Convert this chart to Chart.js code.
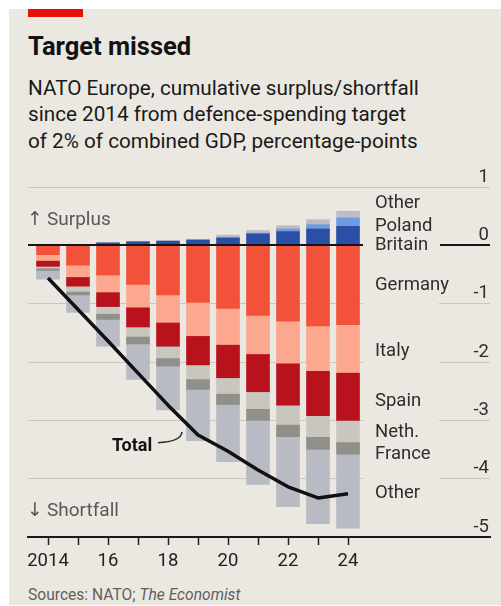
<!DOCTYPE html>
<html>
<head>
<meta charset="utf-8">
<script src="https://cdn.jsdelivr.net/npm/chart.js@4.4.1/dist/chart.umd.min.js"></script>
<style>
  html, body { margin:0; padding:0; background:#ffffff; width:501px; height:606px; overflow:hidden; }
  #bg { position:absolute; left:9px; top:9px; width:492px; height:596px; background:#ebe8e1; }
  #redbar { position:absolute; left:28px; top:9px; width:55px; height:8px; background:#e3120b; }
  .t { position:absolute; left:28px; font-family:Roboto, sans-serif; white-space:nowrap; }
  #title { top:31px; font-size:25.5px; line-height:30px; font-weight:700; color:#121212; }
  #sub { top:74.6px; font-size:20.7px; line-height:26.7px; color:#1a1a1a; }
  #src { top:584.7px; font-size:15.6px; line-height:20px; color:#5f5f5f; }
  #c { position:absolute; left:0; top:0; }
</style>
</head>
<body>
<div id="bg"></div>
<div id="redbar"></div>
<div id="title" class="t">Target missed</div>
<div id="sub" class="t">NATO Europe, cumulative surplus/shortfall<br>since 2014 from defence-spending target<br>of 2% of combined GDP, percentage-points</div>
<div id="src" class="t">Sources: NATO; <i>The Economist</i></div>
<canvas id="c" width="501" height="606"></canvas>
<script>
// ---- data (percentage-points of combined GDP, cumulative since 2014) ----
const years = [2014, 2015, 2016, 2017, 2018, 2019, 2020, 2021, 2022, 2023, 2024];
const xTickLabels = ['2014', '', '16', '', '18', '', '20', '', '22', '', '24'];
const yTickValues = [1, 0, -1, -2, -3, -4, -5];
const yTickLabels = ['1', '0', '-1', '-2', '-3', '-4', '-5'];

const britain     = [0.015, 0.01, 0.04, 0.06, 0.07, 0.09, 0.125, 0.195, 0.235, 0.28, 0.325];
const poland      = [0, 0, 0, 0, 0, 0, 0.01, 0.015, 0.045, 0.075, 0.145];
const otherPlus   = [0.005, 0.005, 0.01, 0.01, 0.015, 0.015, 0.04, 0.045, 0.057, 0.085, 0.115];
const germany     = [-0.16, -0.34, -0.51, -0.67, -0.85, -0.98, -1.08, -1.20, -1.30, -1.38, -1.36];
const italy       = [-0.10, -0.20, -0.29, -0.39, -0.47, -0.57, -0.62, -0.66, -0.72, -0.77, -0.82];
const spain       = [-0.10, -0.16, -0.25, -0.34, -0.41, -0.50, -0.57, -0.65, -0.72, -0.77, -0.82];
const netherlands = [-0.03, -0.09, -0.12, -0.16, -0.20, -0.24, -0.27, -0.29, -0.33, -0.36, -0.37];
const france      = [-0.04, -0.06, -0.10, -0.13, -0.14, -0.18, -0.19, -0.20, -0.21, -0.22, -0.21];
const otherMinus  = [-0.15, -0.30, -0.46, -0.61, -0.75, -0.88, -0.98, -1.10, -1.20, -1.27, -1.27];
const total       = [-0.56, -1.10, -1.64, -2.19, -2.74, -3.25, -3.53, -3.85, -4.14, -4.33, -4.26];

const seriesNames = ['Britain', 'Poland', 'Other', 'Germany', 'Italy', 'Spain', 'Neth.', 'France', 'Other'];

// ---- styling ----
const BG = '#ebe8e1';
const FONT = 'Roboto, sans-serif';
const colors = {
  britain:'#2b4ea6', poland:'#6d9de0', otherPlus:'#bdbdc3',
  germany:'#f2513a', italy:'#fba88f', spain:'#b8121d',
  netherlands:'#c9c6bf', france:'#8f908a', otherMinus:'#b8bbc3'
};
// legend label anchor values (y-axis units)
const legendLabels = [
  {text: seriesNames[2], v: 0.64},
  {text: seriesNames[1], v: 0.25},
  {text: seriesNames[0], v: -0.08},
  {text: seriesNames[3], v: -0.76},
  {text: seriesNames[4], v: -1.89},
  {text: seriesNames[5], v: -2.75},
  {text: seriesNames[6], v: -3.28},
  {text: seriesNames[7], v: -3.66},
  {text: seriesNames[8], v: -4.33}
];

const pts = arr => years.map((yr, i) => ({x: yr, y: arr[i]}));
const bar = (label, arr, color) => ({
  type: 'bar', label, data: pts(arr), backgroundColor: color,
  borderWidth: 0, barThickness: 23, order: 1
});

const overlay = {
  id: 'overlay',
  afterDatasetsDraw(chart) {
    const {ctx, chartArea: a, scales: {x, y}} = chart;
    ctx.save();
    // clear gridlines behind the label column
    ctx.fillStyle = BG;
    ctx.fillRect(363, y.getPixelForValue(0.9), 76, y.getPixelForValue(-4.85) - y.getPixelForValue(0.9));
    // zero line
    const y0 = Math.round(y.getPixelForValue(0));
    ctx.strokeStyle = '#141414';
    ctx.lineWidth = 2;
    ctx.beginPath();
    ctx.moveTo(a.left, y0); ctx.lineTo(363, y0);
    ctx.moveTo(440, y0); ctx.lineTo(a.right, y0);
    ctx.stroke();
    ctx.restore();
  },
  afterDraw(chart) {
    const {ctx, chartArea: a, scales: {x, y}} = chart;
    ctx.save();
    ctx.textBaseline = 'alphabetic';
    // y tick labels (right, above gridlines)
    ctx.font = '18.5px ' + FONT;
    ctx.fillStyle = '#2e2e2e';
    ctx.textAlign = 'right';
    yTickValues.forEach((v, i) => {
      ctx.fillText(yTickLabels[i], a.right - 1, y.getPixelForValue(v) - 5.5);
    });
    // series labels
    ctx.textAlign = 'left';
    legendLabels.forEach(l => ctx.fillText(l.text, 375, y.getPixelForValue(l.v)));
    // surplus / shortfall
    ctx.fillStyle = '#585858';
    ctx.font = '19px "DejaVu Sans", sans-serif';
    ctx.fillText('↑', 27, y.getPixelForValue(0.35));
    ctx.fillText('↓', 27, y.getPixelForValue(-4.64));
    ctx.font = '19px ' + FONT;
    ctx.fillText('Surplus', 47, y.getPixelForValue(0.35));
    ctx.fillText('Shortfall', 47, y.getPixelForValue(-4.64));
    // Total label
    ctx.fillStyle = '#121212';
    ctx.font = 'bold 18px ' + FONT;
    const tx = x.getPixelForValue(2016.13), ty = y.getPixelForValue(-3.52);
    ctx.fillText('Total', tx, ty);
    // leader
    ctx.strokeStyle = '#2a2a2a';
    ctx.lineWidth = 1.5;
    ctx.beginPath();
    ctx.moveTo(158, ty - 8);
    ctx.quadraticCurveTo(181, ty - 9, 182, y.getPixelForValue(-3.2));
    ctx.stroke();
    ctx.restore();
  }
};

new Chart(document.getElementById('c'), {
  data: {
    datasets: [
      {type: 'line', label: 'Total', data: pts(total), borderColor: '#111111', borderWidth: 3.5,
       pointRadius: 0, tension: 0, fill: false, stack: 'total', order: -1, borderCapStyle: 'butt', borderJoinStyle: 'round'},
      bar('Britain', britain, colors.britain),
      bar('Poland', poland, colors.poland),
      bar('Other', otherPlus, colors.otherPlus),
      bar('Germany', germany, colors.germany),
      bar('Italy', italy, colors.italy),
      bar('Spain', spain, colors.spain),
      bar('Netherlands', netherlands, colors.netherlands),
      bar('France', france, colors.france),
      bar('Other', otherMinus, colors.otherMinus)
    ]
  },
  options: {
    responsive: false,
    animation: false,
    devicePixelRatio: 1,
    layout: {padding: {left: 28, right: 11, top: 187, bottom: 39}},
    plugins: {legend: {display: false}, tooltip: {enabled: false}},
    scales: {
      x: {
        type: 'linear', min: 2013.333, max: 2028.733, stacked: true, offset: false,
        afterBuildTicks(s) { s.ticks = years.map(v => ({value: v})); },
        afterFit(s) { s.height = 30; },
        ticks: {
          autoSkip: false, maxRotation: 0, padding: 5,
          color: '#222', font: {family: FONT, size: 18.5},
          callback: (v, i) => xTickLabels[years.indexOf(v)] ?? ''
        },
        grid: {drawOnChartArea: false, offset: false, tickLength: 8, tickColor: '#222', tickWidth: 1.5},
        border: {display: true, color: '#1a1a1a', width: 2}
      },
      y: {
        position: 'right', min: -5, max: 1, stacked: true,
        afterFit(s) { s.width = 0; },
        ticks: {display: false, stepSize: 1},
        grid: {
          drawTicks: false, lineWidth: 1,
          color: c => (c.tick.value === 0 || c.tick.value === -5) ? 'rgba(0,0,0,0)' : '#cbc7bf'
        },
        border: {display: false}
      }
    }
  },
  plugins: [overlay]
});
</script>
</body>
</html>
